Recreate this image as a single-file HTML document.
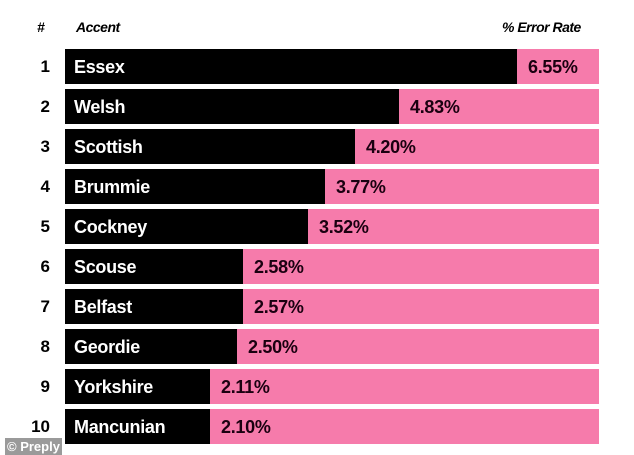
<!DOCTYPE html>
<html><head><style>
body{margin:0;width:634px;height:455px;background:#fff;position:relative;overflow:hidden;font-family:"Liberation Sans",sans-serif;}
.h{position:absolute;top:19px;font-weight:bold;font-style:italic;font-size:14px;color:#000;letter-spacing:-0.5px}
.n{position:absolute;left:0;width:50px;text-align:right;font-weight:bold;font-size:17px;color:#000}
.row{position:absolute;left:65px;width:534px;height:35px;background:#f67bab}
.b{position:absolute;left:0;top:0;height:35px;background:#000}
.l{position:absolute;left:9px;top:8px;color:#fff;font-weight:bold;font-size:18px;letter-spacing:-0.3px}
.v{position:absolute;top:8px;color:#1a0010;font-weight:bold;font-size:18px;letter-spacing:-0.3px}
.badge{position:absolute;left:5px;top:438px;width:57px;height:17px;background:#9a9a9a;color:#fff;font-weight:bold;font-size:13px;line-height:17px;padding-left:2px;box-sizing:border-box}
</style></head><body>
<div class="h" style="left:37px">#</div>
<div class="h" style="left:76px">Accent</div>
<div class="h" style="left:502px">% Error Rate</div>
<div id="c"></div>
<div class="badge">© Preply</div>
<script>
var d=[["Essex",517,"6.55%"],["Welsh",399,"4.83%"],["Scottish",355,"4.20%"],["Brummie",325,"3.77%"],["Cockney",308,"3.52%"],["Scouse",243,"2.58%"],["Belfast",243,"2.57%"],["Geordie",237,"2.50%"],["Yorkshire",210,"2.11%"],["Mancunian",210,"2.10%"]];
var h="";d.forEach(function(r,i){var t=49+i*40;var w=r[1]-65;
h+='<div class="n" style="top:'+(t+8)+'px">'+(i+1)+'</div><div class="row" style="top:'+t+'px"><div class="b" style="width:'+w+'px"><div class="l">'+r[0]+'</div></div><div class="v" style="left:'+(w+11)+'px">'+r[2]+'</div></div>';});
document.getElementById("c").innerHTML=h;
</script>
</body></html>
